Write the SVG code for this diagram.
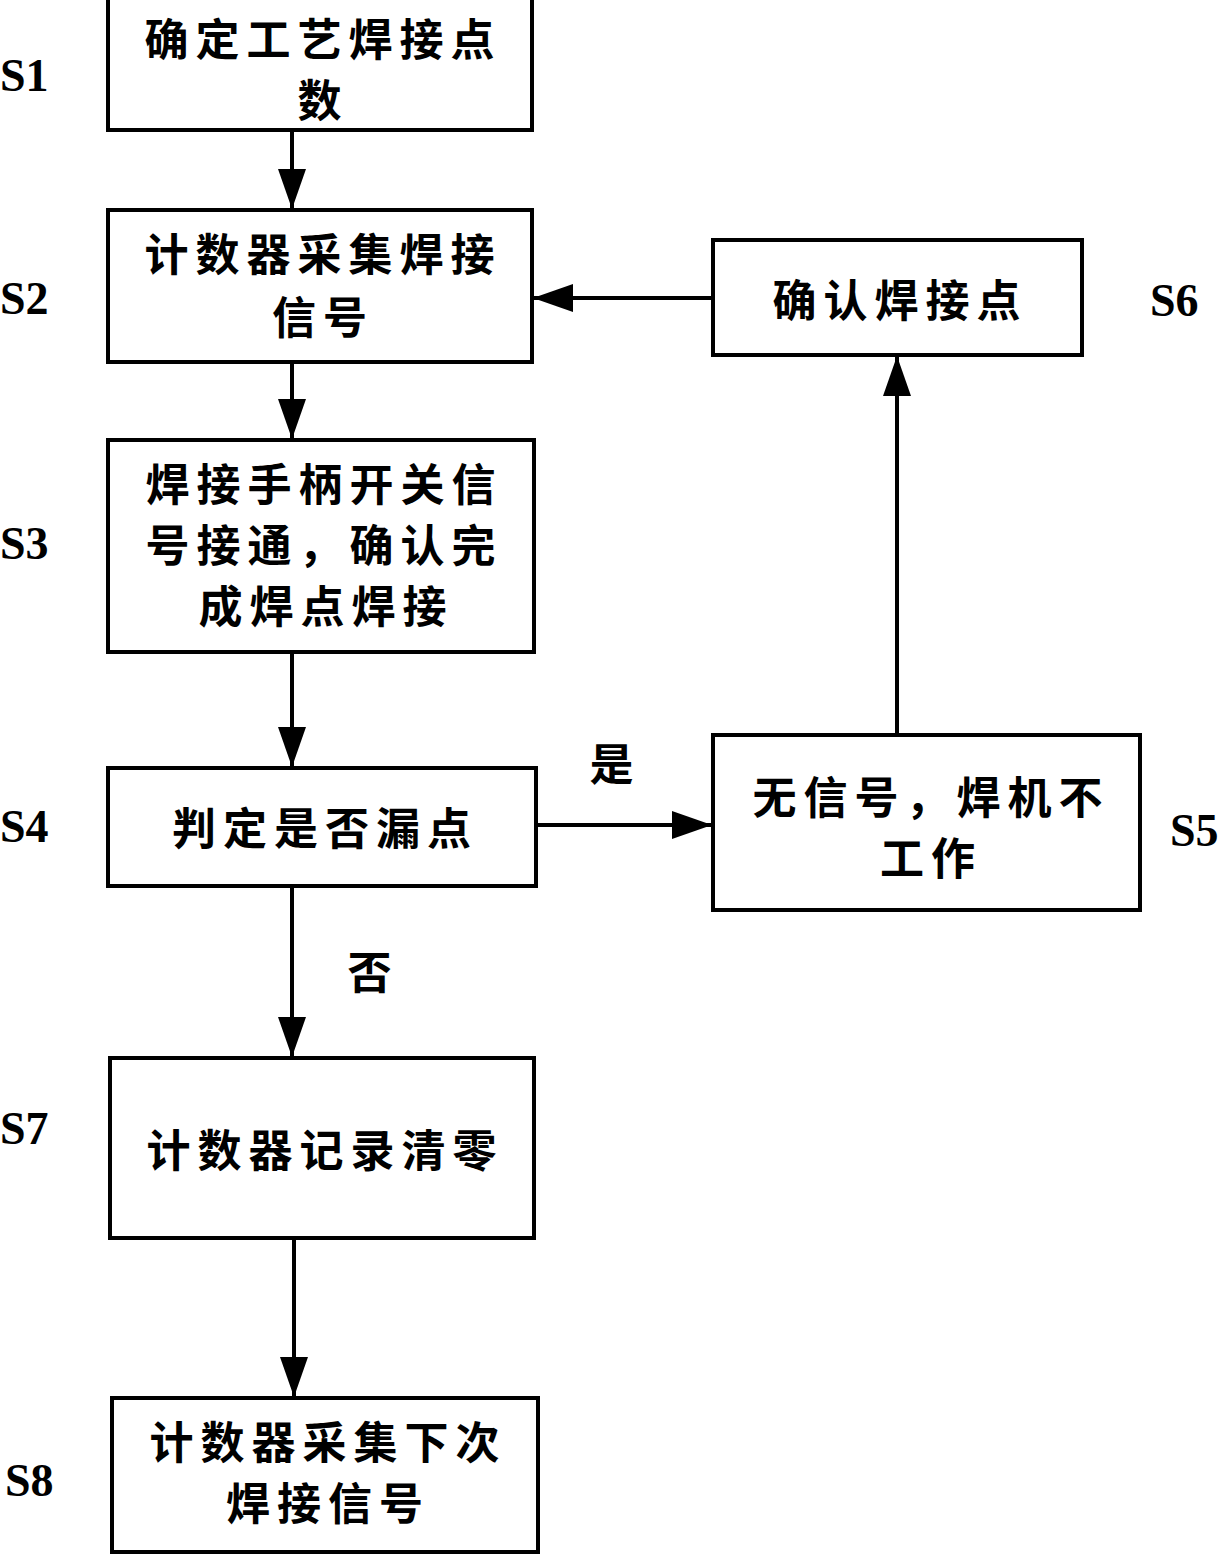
<svg xmlns="http://www.w3.org/2000/svg" width="1226" height="1556" viewBox="0 0 1226 1556">
<style>
.box{fill:#fff;stroke:#000;stroke-width:4}
.t{font-family:"Noto Sans CJK SC",sans-serif;font-weight:bold;font-size:44px;letter-spacing:7px;text-anchor:middle;dominant-baseline:central}
.s{font-family:"Liberation Serif",serif;font-weight:bold;font-size:46px;dominant-baseline:central}
.c{stroke:#000;stroke-width:4;fill:none}
</style>
<defs>
<marker id="ah" markerUnits="userSpaceOnUse" markerWidth="40" markerHeight="28" refX="40" refY="14" viewBox="0 0 40 28" orient="auto">
<path d="M0,0 L40,14 L0,28 Z" fill="#000"/>
</marker>
</defs>
<g id="connectors">
<line class="c" x1="292" y1="131" x2="292" y2="209" marker-end="url(#ah)"/>
<line class="c" x1="292" y1="362" x2="292" y2="439" marker-end="url(#ah)"/>
<line class="c" x1="292" y1="652" x2="292" y2="767" marker-end="url(#ah)"/>
<line class="c" x1="292" y1="886" x2="292" y2="1057" marker-end="url(#ah)"/>
<line class="c" x1="294" y1="1238" x2="294" y2="1397" marker-end="url(#ah)"/>
<line class="c" x1="536" y1="825" x2="712" y2="825" marker-end="url(#ah)"/>
<line class="c" x1="897" y1="735" x2="897" y2="356" marker-end="url(#ah)"/>
<line class="c" x1="713" y1="298" x2="533" y2="298" marker-end="url(#ah)"/>
<text class="t" x="615" y="762">是</text>
<text class="t" x="373" y="970">否</text>
</g>
<g id="S1">
<rect class="box" x="108" y="-2" width="424" height="132"/>
<text class="t" x="323" y="37">确定工艺焊接点</text>
<text class="t" x="323" y="98">数</text>
<text class="s" x="0" y="75">S1</text>
</g>
<g id="S2">
<rect class="box" x="108" y="210" width="424" height="152"/>
<text class="t" x="323" y="252">计数器采集焊接</text>
<text class="t" x="323" y="315">信号</text>
<text class="s" x="0" y="298">S2</text>
</g>
<g id="S3">
<rect class="box" x="108" y="440" width="426" height="212"/>
<text class="t" x="324" y="482">焊接手柄开关信</text>
<text class="t" x="324" y="543">号接通，确认完</text>
<text class="t" x="326" y="604">成焊点焊接</text>
<text class="s" x="0" y="543">S3</text>
</g>
<g id="S4">
<rect class="box" x="108" y="768" width="428" height="118"/>
<text class="t" x="325" y="826">判定是否漏点</text>
<text class="s" x="0" y="826">S4</text>
</g>
<g id="S5">
<rect class="box" x="713" y="735" width="427" height="175"/>
<text class="t" x="931" y="795">无信号，焊机不</text>
<text class="t" x="931" y="856">工作</text>
<text class="s" x="1170" y="830">S5</text>
</g>
<g id="S6">
<rect class="box" x="713" y="240" width="369" height="115"/>
<text class="t" x="900" y="298">确认焊接点</text>
<text class="s" x="1150" y="300">S6</text>
</g>
<g id="S7">
<rect class="box" x="110" y="1058" width="424" height="180"/>
<text class="t" x="325" y="1148">计数器记录清零</text>
<text class="s" x="0" y="1128">S7</text>
</g>
<g id="S8">
<rect class="box" x="112" y="1398" width="426" height="154"/>
<text class="t" x="328" y="1440">计数器采集下次</text>
<text class="t" x="328" y="1501">焊接信号</text>
<text class="s" x="5" y="1480">S8</text>
</g>
</svg>
